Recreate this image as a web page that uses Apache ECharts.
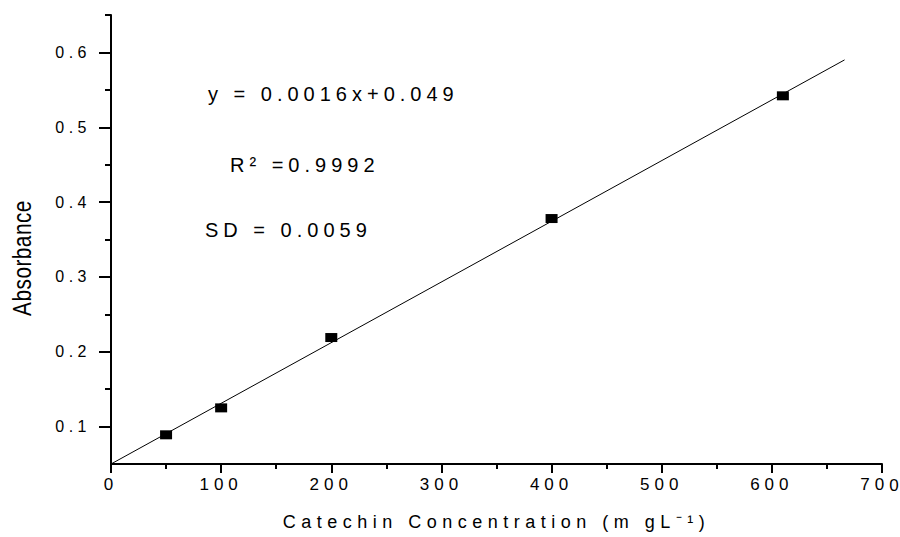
<!DOCTYPE html>
<html>
<head>
<meta charset="utf-8">
<script src="https://cdn.jsdelivr.net/npm/echarts@6/dist/echarts.min.js"></script>
<style>
  html, body { margin: 0; padding: 0; background: #fff; }
  #chart { width: 900px; height: 537px; }
  /* wide character spacing used throughout the figure */
  #chart text { letter-spacing: 5px; }
</style>
</head>
<body>
<div id="chart"></div>
<script>
// Calibration points: catechin concentration (mg/L) vs absorbance
const concentration = [50, 100, 200, 400, 610];
const absorbance = [0.089, 0.125, 0.219, 0.378, 0.542];

// Fitted straight line, start and end
const fitX = [0, 666];
const fitY = [0.05, 0.59];

// Y axis ticks: labelled majors and short minors
const yMajorTicks = [0.1, 0.2, 0.3, 0.4, 0.5, 0.6];
const yMinorTicks = [0.15, 0.25, 0.35, 0.45, 0.55, 0.65];

// Regression statistics shown inside the plot
const statLines = ['y = 0.0016x+0.049', 'R\u00B2 =0.9992', 'SD = 0.0059'];

const xTitle = 'Catechin Concentration (m gL\u207B\u00B9)';
const yTitle = 'Absorbance';

const FONT = '"Liberation Sans", Arial, sans-serif';
const X_MAX = 700;

const el = document.getElementById('chart');
const chart = echarts.init(el, null, { renderer: 'svg' });

const black = '#000';
const tickStyle = { color: black, width: 2 };

chart.setOption({
  animation: false,
  backgroundColor: '#fff',
  grid: { left: 111, right: 18, top: 15, bottom: 73, containLabel: false, outerBoundsMode: 'none' },
  xAxis: {
    type: 'value',
    min: 0,
    max: X_MAX,
    interval: 100,
    axisLine: { show: true, onZero: false, lineStyle: { color: black, width: 2 } },
    axisTick: { show: true, length: 9, lineStyle: tickStyle },
    minorTick: { show: true, splitNumber: 2, length: 5, lineStyle: tickStyle },
    splitLine: { show: false },
    minorSplitLine: { show: false },
    axisLabel: { color: black, fontSize: 17, fontFamily: FONT, margin: 12 },
    name: xTitle,
    nameLocation: 'middle',
    nameGap: 49,
    nameTextStyle: { color: black, fontSize: 18, fontFamily: FONT }
  },
  yAxis: [
    {
      type: 'value',
      min: 0.05,
      max: 0.65,
      interval: 0.05,
      axisLine: { show: true, onZero: false, lineStyle: { color: black, width: 2 } },
      axisTick: { show: true, customValues: yMajorTicks, length: 12, lineStyle: tickStyle },
      axisLabel: {
        customValues: yMajorTicks,
        formatter: v => Number(v).toFixed(1),
        color: black, fontSize: 16, fontFamily: FONT, margin: 20
      },
      splitLine: { show: false }
    },
    {
      type: 'value',
      min: 0.05,
      max: 0.65,
      interval: 0.05,
      position: 'left',
      offset: 0,
      axisLine: { show: false },
      axisTick: { show: true, customValues: yMinorTicks, length: 6, lineStyle: tickStyle },
      axisLabel: { show: false },
      splitLine: { show: false }
    }
  ],
  graphic: [
    { type: 'text', left: 208, top: 84, silent: true,
      style: { text: statLines[0], fontSize: 20, fontFamily: FONT, fill: black } },
    { type: 'text', left: 230, top: 155, silent: true,
      style: { text: statLines[1], fontSize: 20, fontFamily: FONT, fill: black } },
    { type: 'text', left: 205, top: 220, silent: true,
      style: { text: statLines[2], fontSize: 20, fontFamily: FONT, fill: black } },
    // vertical axis title, condensed horizontally to a narrow face
    { type: 'text', x: 22, y: 258, rotation: Math.PI / 2, scaleX: 0.8, silent: true,
      style: { text: yTitle, fontSize: 26, fontFamily: FONT, fill: black,
               align: 'center', verticalAlign: 'middle' } }
  ],
  series: [
    {
      type: 'line',
      data: fitX.map((x, i) => [x, fitY[i]]),
      showSymbol: false,
      silent: true,
      lineStyle: { color: black, width: 1 },
      z: 2
    },
    {
      type: 'scatter',
      data: concentration.map((x, i) => [x, absorbance[i]]),
      symbol: 'rect',
      symbolSize: [12, 9],
      silent: true,
      itemStyle: { color: black, opacity: 1 },
      z: 3
    }
  ]
});

// Per-text spacing tweaks: axis titles, decimal tick labels, and the last
// x label (no trailing spacing after its final digit so it stays on canvas)
const SVG_NS = 'http://www.w3.org/2000/svg';
function tuneSpacing() {
  el.querySelectorAll('text').forEach(t => {
    const s = t.textContent;
    if (s === yTitle) t.style.letterSpacing = '0.6px';
    else if (s === xTitle) t.style.letterSpacing = '5.5px';
    else if (/^0\.\d$/.test(s)) t.style.letterSpacing = '4.5px';
    else if (s === String(X_MAX) && !t.dataset.tuned) {
      t.dataset.tuned = '1';
      t.textContent = s.slice(0, -1);
      const last = document.createElementNS(SVG_NS, 'tspan');
      last.textContent = s.slice(-1);
      last.style.letterSpacing = '0px';
      t.appendChild(last);
      t.setAttribute('dx', '-2.5');
    }
  });
}
chart.on('finished', tuneSpacing);
tuneSpacing();
setTimeout(tuneSpacing, 0);
</script>
</body>
</html>
